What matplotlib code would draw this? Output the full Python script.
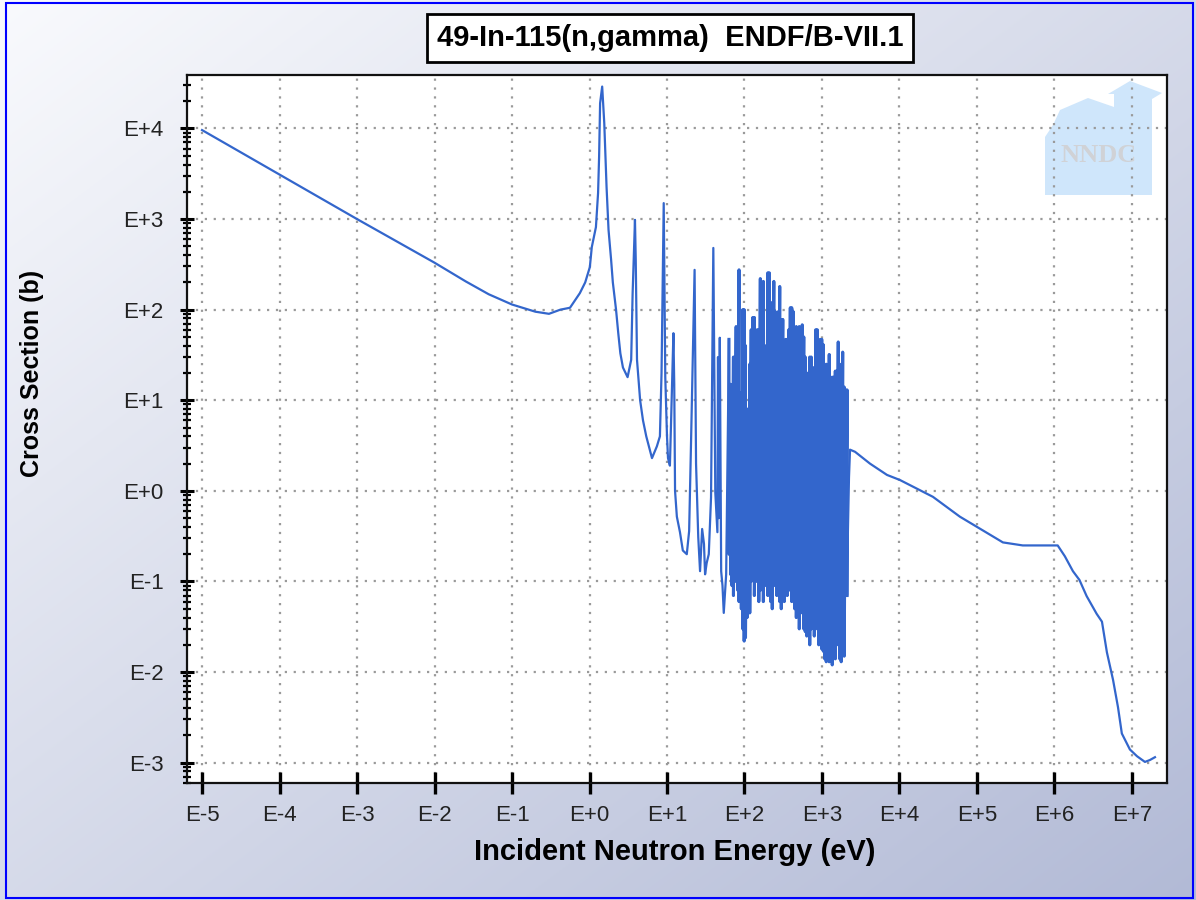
import numpy as np
import matplotlib
matplotlib.use("Agg")
import matplotlib.pyplot as plt
import matplotlib.ticker as ticker
from matplotlib.patches import Polygon, Rectangle

plt.rcParams['font.family'] = ['Liberation Sans', 'DejaVu Sans']

title = "49-In-115(n,gamma)  ENDF/B-VII.1"
xlabel = "Incident Neutron Energy (eV)"
ylabel = "Cross Section (b)"
x_decades = [-5, -4, -3, -2, -1, 0, 1, 2, 3, 4, 5, 6, 7]
y_decades = [-3, -2, -1, 0, 1, 2, 3, 4]

# thermal range and the first resolved resonances (eV, barns)
low_e = [1e-5, 1e-4, 1e-3, 1e-2, 0.0253, 0.05, 0.1, 0.2, 0.3, 0.42,
         0.56, 0.75, 0.88, 1.01, 1.07, 1.21, 1.29, 1.33, 1.37, 1.457,
         1.55, 1.66, 1.76, 1.9, 2.0, 2.2, 2.35, 2.5, 2.7, 3.1,
         3.45, 3.6, 3.86, 3.95, 4.1, 4.5, 4.9, 5.4, 5.9, 6.4,
         7.4, 8.1, 8.5, 9.07, 9.5, 10.0, 10.3, 10.9, 12.1, 12.4,
         12.7, 13.4, 14.7, 16.0, 18.0, 19.3, 20.5, 22.7, 23.7, 25.3,
         26.7, 28.4, 30.0, 31.0, 32.5, 34.6, 37.0, 39.6, 41.0, 42.0,
         44.7, 45.5, 46.5, 48.0, 50.0, 52.0, 54.0, 58.0]
low_xs = [9600, 3100, 1000, 330, 205, 148, 114, 95, 90, 100,
          105, 152, 200, 295, 490, 815, 1940, 4900, 19000, 29000,
          11500, 2250, 760, 355, 200, 100, 55, 33, 23, 18,
          28, 150, 980, 355, 28, 10, 6.0, 4.0, 3.0, 2.3,
          3.1, 4.0, 20, 1500, 18, 4.0, 2.3, 1.9, 55, 15,
          1.0, 0.52, 0.35, 0.22, 0.2, 0.36, 4.0, 275, 2.0, 0.31,
          0.13, 0.38, 0.26, 0.12, 0.16, 0.2, 0.85, 480, 11, 0.96,
          0.35, 30, 0.5, 49, 0.13, 0.09, 0.045, 0.12]

# dense resonance region: energy, peak and valley of each resonance
res_e = [63, 66, 69, 72, 75, 78, 82, 85, 88, 91,
         95, 99, 103, 108, 112, 117, 122, 128, 134, 140,
         146, 153, 160, 167, 175, 183, 191, 200, 209, 218,
         228, 239, 250, 261, 273, 285, 298, 312, 326, 341,
         356, 373, 390, 407, 426, 445, 466, 487, 509, 532,
         556, 582, 608, 636, 665, 695, 727, 760, 795, 831,
         869, 908, 950, 993, 1040, 1085, 1135, 1185, 1240, 1300,
         1355, 1420, 1485, 1550, 1620, 1695, 1770, 1850, 1935, 2025,
         2110]
res_peak = [47, 15, 6, 30, 9, 65, 20, 275, 12, 3,
            100, 100, 40, 8, 2.7, 25, 60, 82, 82, 3.4,
            60, 60, 220, 35, 205, 40, 4.7, 255, 255, 120,
            16, 205, 95, 8, 95, 180, 78, 78, 11, 47,
            47, 60, 105, 105, 95, 40, 65, 17, 65, 36,
            68, 50, 30, 18, 20, 30, 30, 22, 23, 60,
            60, 22, 47, 47, 41, 17, 25, 13, 32, 12,
            18, 18, 21, 21, 44, 25, 22, 34, 14, 13,
            13]
res_valley = [0.2, 0.12, 0.09, 0.07, 0.1, 0.18, 0.08, 0.06, 0.1, 0.05,
              0.03, 0.022, 0.024, 0.04, 0.05, 0.045, 0.1, 0.13, 0.07, 0.1,
              0.2, 0.06, 0.08, 0.12, 0.06, 0.09, 0.15, 0.07, 0.1, 0.06,
              0.05, 0.09, 0.1, 0.07, 0.12, 0.06, 0.05, 0.08, 0.06, 0.1,
              0.07, 0.09, 0.08, 0.06, 0.07, 0.05, 0.04, 0.06, 0.03, 0.05,
              0.045, 0.03, 0.028, 0.025, 0.04, 0.02, 0.03, 0.05, 0.025, 0.05,
              0.03, 0.02, 0.05, 0.018, 0.017, 0.014, 0.013, 0.02, 0.013, 0.015,
              0.012, 0.016, 0.014, 0.02, 0.07, 0.014, 0.013, 0.03, 0.015, 0.07,
              0.07]

# unresolved / fast range
high_e = [2160, 2230, 2300, 2670, 4160, 6900, 1.01e4, 2.7e4, 6.0e4, 1.0e5,
          2.16e5, 3.9e5, 1.1e6, 1.36e6, 1.73e6, 2.1e6, 2.6e6, 3.5e6, 4.1e6, 4.75e6,
          5.7e6, 6.6e6, 7.4e6, 8.1e6, 9.4e6, 1.16e7, 1.47e7, 1.7e7, 1.98e7]
high_xs = [0.36, 1.4, 2.85, 2.7, 2.0, 1.5, 1.32, 0.86, 0.52, 0.40,
           0.27, 0.25, 0.25, 0.19, 0.13, 0.104, 0.069, 0.044, 0.036, 0.0165,
           0.0082, 0.0041, 0.0021, 0.0018, 0.0014, 0.00118, 0.00102, 0.00107, 0.00115]

dense_e = np.repeat(res_e, 2)
dense_xs = np.column_stack([res_peak, res_valley]).ravel()
energy = np.concatenate([low_e, dense_e, high_e])
xs = np.concatenate([low_xs, dense_xs, high_xs])

W, H = 1196, 900
fig = plt.figure(figsize=(W / 100, H / 100), dpi=100)

# gradient background + blue border
bg = fig.add_axes([0, 0, 1, 1], zorder=-10)
gx, gy = np.meshgrid(np.linspace(0, 1, 400), np.linspace(0, 1, 300))
t = (gx + gy) / 2
c0 = np.array([249, 250, 253]) / 255
c1 = np.array([178, 186, 214]) / 255
bg.imshow(c0 + (c1 - c0) * t[..., None], extent=[0, 1, 0, 1], aspect='auto', origin='upper')
bg.add_patch(Rectangle((6 / W, 2 / H), 1187 / W, 895 / H, fill=False,
                       edgecolor='#0000ff', lw=1.5, transform=bg.transAxes))
bg.set_xlim(0, 1)
bg.set_ylim(0, 1)
bg.axis('off')


def px(x, y):
    return (x / W, 1 - y / H)


ax = fig.add_axes([187 / W, 1 - 783 / H, 980 / W, 708 / H])
ax.set_xscale('log')
ax.set_yscale('log')
ax.set_xlim(10 ** -5.194, 10 ** 7.452)
ax.set_ylim(10 ** -3.224, 10 ** 4.59)
ax.set_axisbelow(True)

# NNDC logo
logo = [px(1045, 195), px(1045, 137), px(1053, 125), px(1060, 110), px(1088, 98),
        px(1114, 107), px(1114, 94), px(1108, 94), px(1130, 81), px(1162, 93),
        px(1152, 99), px(1152, 195)]
ax.add_patch(Polygon(logo, closed=True, transform=fig.transFigure,
                     facecolor='#cfe6fb', edgecolor='none', zorder=0.2))
fig.text(1099 / W, 1 - 156 / H, "NNDC", family=['Liberation Serif', 'DejaVu Serif'],
         fontweight='bold', fontsize=19, color='#d0d2d6', ha='center', va='center', zorder=5)

ax.plot(energy, xs, color='#3366cc', lw=1.6, zorder=3)
# the unresolved-looking band is drawn a bit heavier so it reads as a solid block
ax.plot(dense_e, dense_xs, color='#3366cc', lw=2.2, zorder=3)

ax.grid(True, which='major', color='#9a9a9a', linestyle=(0, (1, 3)), linewidth=1.6)

fmt = ticker.FuncFormatter(lambda v, pos: "E%+d" % int(round(np.log10(v))))
ax.xaxis.set_major_locator(ticker.FixedLocator([10.0 ** d for d in x_decades]))
ax.xaxis.set_minor_locator(ticker.NullLocator())
ax.yaxis.set_major_locator(ticker.FixedLocator([10.0 ** d for d in y_decades]))
ax.yaxis.set_minor_locator(ticker.LogLocator(base=10, subs=np.arange(2, 10), numticks=100))
ax.xaxis.set_major_formatter(fmt)
ax.yaxis.set_major_formatter(fmt)
ax.yaxis.set_minor_formatter(ticker.NullFormatter())

ax.tick_params(axis='x', which='major', direction='inout', length=16.5, width=2.4,
               pad=7.5, labelsize=16, colors='black', labelcolor='#222222')
ax.tick_params(axis='y', which='major', direction='inout', length=9.4, width=2.2,
               pad=12, labelsize=16, colors='black', labelcolor='#222222')
ax.tick_params(axis='y', which='minor', direction='inout', length=5.8, width=1.6, colors='black')

for s in ax.spines.values():
    s.set_linewidth(1.6)
    s.set_color('#111111')

ax.set_xlabel(xlabel, fontsize=21, fontweight='bold')
ax.xaxis.set_label_coords(0.498, -0.078)
ax.xaxis.label.set_va('top')
ax.set_ylabel(ylabel, fontsize=18, fontweight='bold')
ax.yaxis.set_label_coords(-0.146, 0.578)

fig.text(670 / W, 1 - 38 / H, title, fontsize=21, fontweight='bold', ha='center', va='center',
         bbox=dict(boxstyle='square,pad=0.33', facecolor='white', edgecolor='black', lw=2))

fig.savefig('out.png', dpi=100)
